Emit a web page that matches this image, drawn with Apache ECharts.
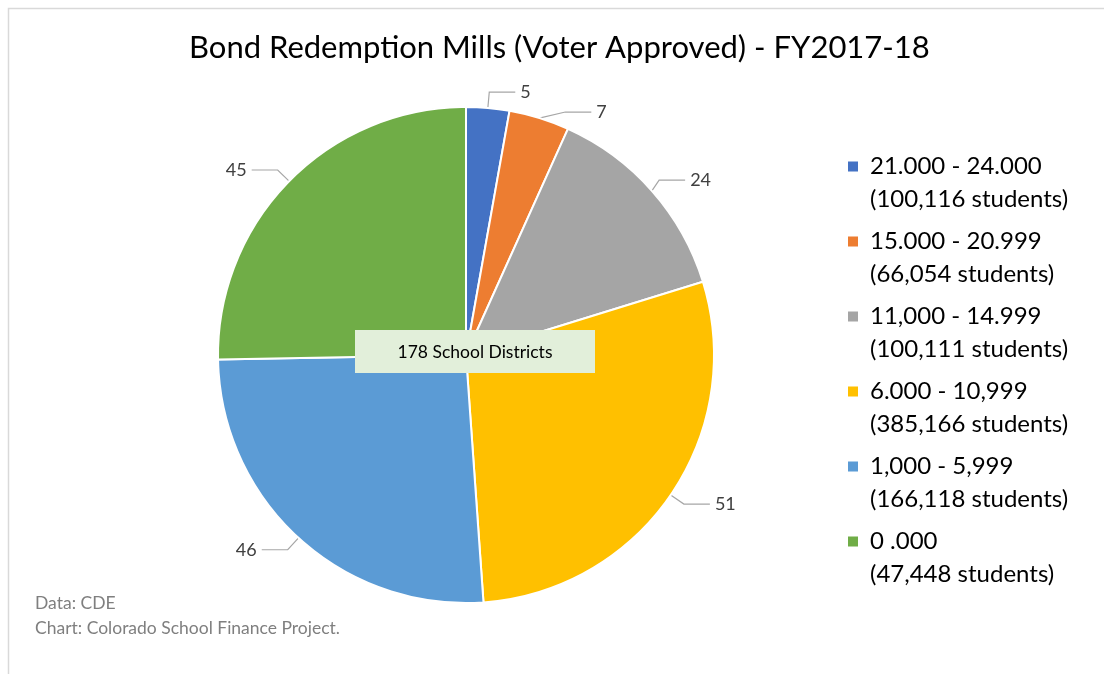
<!DOCTYPE html>
<html>
<head>
<meta charset="utf-8">
<script src="https://cdn.jsdelivr.net/npm/echarts@6/dist/echarts.min.js"></script>
<style>
  html, body { margin: 0; padding: 0; background: #fff; }
  #chart { width: 1104px; height: 674px; }
</style>
</head>
<body>
<div id="chart"></div>
<script>
// mill ranges, district counts and students per range
var ranges = ['21.000 - 24.000', '15.000 - 20.999', '11,000 - 14.999', '6.000 - 10,999', '1,000 - 5,999', '0 .000'];
var districts = [5, 7, 24, 51, 46, 45];
var students = ['100,116', '66,054', '100,111', '385,166', '166,118', '47,448'];
var colors = ['#4472c4', '#ed7d31', '#a5a5a5', '#ffc000', '#5b9bd5', '#70ad47'];

var font = 'Lato, "Open Sans", sans-serif';

var chart = echarts.init(document.getElementById('chart'));

var pieData = [];
for (var i = 0; i < ranges.length; i++) {
    pieData.push({
        name: ranges[i] + '\n(' + students[i] + ' students)',
        value: districts[i],
        itemStyle: { color: colors[i] }
    });
}

// square on top of an invisible tail, so the marker sits beside the first text line
var legendIcon = 'path://M0,0L1,0L1,1L0,1Z M0,4.3L0.001,4.3';

var option = {
    backgroundColor: '#fff',
    animation: false,
    title: {
        text: 'Bond Redemption Mills (Voter Approved) - FY2017-18',
        left: 184,
        top: 27,
        textStyle: { fontFamily: font, fontSize: 31, fontWeight: 'normal', color: '#000' }
    },
    legend: {
        orient: 'vertical',
        left: 848,
        top: 150,
        padding: 0,
        itemWidth: 10,
        itemHeight: 43,
        itemGap: 9,
        icon: legendIcon,
        selectedMode: false,
        itemStyle: { borderWidth: 0 },
        textStyle: {
            fontFamily: font,
            fontSize: 24,
            lineHeight: 33,
            color: '#000',
            padding: [0, 0, 0, 7]
        }
    },
    graphic: [
        {
            type: 'rect',
            left: 6, top: 6,
            shape: { width: 1120, height: 700 },
            style: { fill: 'none', stroke: '#d9d9d9', lineWidth: 1.5 },
            silent: true
        },
        {
            type: 'text',
            left: 35, top: 591,
            style: {
                text: 'Data: CDE\nChart: Colorado School Finance Project.',
                fontFamily: font, fontSize: 17.5, lineHeight: 25, fill: '#7f7f7f'
            }
        },
        {
            type: 'rect',
            left: 355, top: 330,
            z: 100,
            shape: { width: 240, height: 43 },
            style: { fill: '#e2efda' }
        },
        {
            type: 'text',
            x: 475, y: 352,
            z: 101,
            style: {
                text: '178 School Districts',
                fontFamily: font, fontSize: 17.5, fill: '#000',
                align: 'center', verticalAlign: 'middle'
            }
        }
    ],
    series: [{
        type: 'pie',
        center: [466, 355],
        radius: [0, 248],
        startAngle: 90,
        clockwise: true,
        itemStyle: { borderColor: '#fff', borderWidth: 2 },
        label: {
            show: true,
            formatter: '{c}',
            fontFamily: font,
            fontSize: 18,
            color: '#404040'
        },
        labelLine: {
            show: true,
            length: 16,
            length2: 26,
            lineStyle: { color: '#a6a6a6', width: 1.2 }
        },
        emphasis: { disabled: true },
        data: pieData
    }]
};

chart.setOption(option);
</script>
</body>
</html>
